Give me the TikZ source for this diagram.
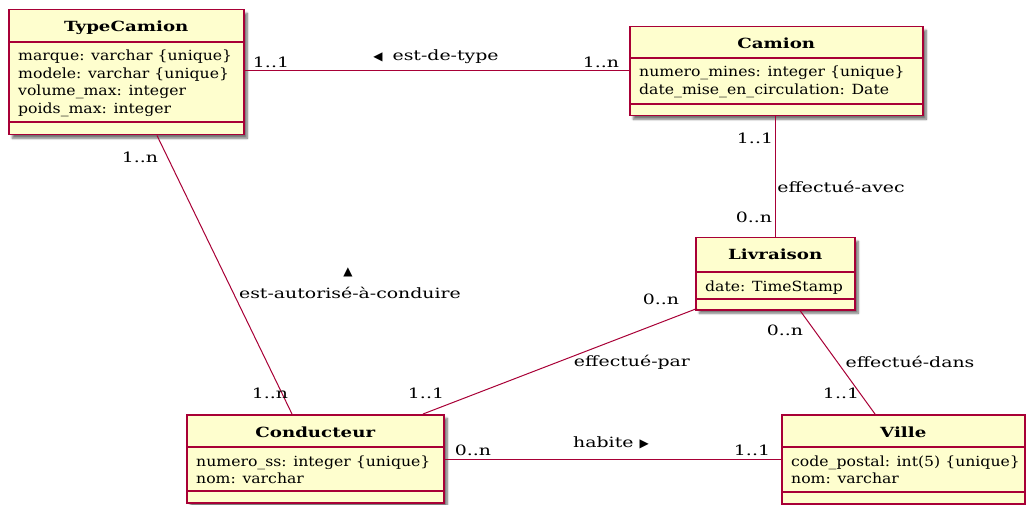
\documentclass[tikz,border=0pt]{standalone}
\usepackage{fontspec}
\setmainfont{DejaVu Serif}
\newfontfamily\attrfont[FakeStretch=1.12]{DejaVu Serif}
\newfontfamily\titlefont[FakeStretch=1.3]{DejaVu Serif}
\newfontfamily\lblfont[FakeStretch=1.33]{DejaVu Serif}
\newfontfamily\symfont{DejaVu Sans}
\usetikzlibrary{shadows.blur,calc}
\definecolor{umlborder}{HTML}{A80036}
\definecolor{umlfill}{HTML}{FEFECE}

\tikzset{
  classbox/.style={draw=umlborder, fill=umlfill, line width=1.5pt, anchor=north west,
    inner sep=0pt, blur shadow={shadow xshift=3.5pt, shadow yshift=-3.5pt,
    shadow blur steps=6, shadow opacity=55}},
  sepline/.style={draw=umlborder, line width=1.5pt},
  classtitle/.style={font=\titlefont\fontsize{14}{17}\selectfont\bfseries, inner sep=0pt, anchor=base},
  attr/.style={font=\attrfont\fontsize{14}{17}\selectfont, inner sep=0pt, anchor=base west},
  assoc/.style={draw=umlborder, line width=1pt},
  lbl/.style={font=\lblfont\fontsize{14.2}{17}\selectfont, inner sep=0pt},
}
\newcommand\tri[1]{{\symfont\fontsize{12}{12}\selectfont #1}}

% #1 name, #2 x, #3 y (top), #4 width, #5 height,
% #6 header height, #7 offset of the lower separator, #8 title, #9 attributes
\newcommand\umlclass[9]{%
  \node[classbox, minimum width=#4pt, minimum height=#5pt] (#1) at (#2,#3) {};
  \draw[sepline] ([yshift=-#6pt]#1.north west) -- ([yshift=-#6pt]#1.north east);
  \draw[sepline] ([yshift=-#7pt]#1.north west) -- ([yshift=-#7pt]#1.north east);
  \node[classtitle] (#1-title) at ([yshift=-23pt]#1.north) {#8};
  \foreach \t [count=\i] in {#9}
    \node[attr] (#1-a\i) at ([xshift=10pt, yshift={-#6pt-19pt-(\i-1)*17.4pt}]#1.north west) {\t};
}

\begin{document}
\begin{tikzpicture}[x=1pt, y=-1pt]
\useasboundingbox (0,0) rectangle (1026,505);

% classes
\umlclass{tc}{8}{9}{235}{125}{33}{113}{TypeCamion}
  {{marque: varchar \{unique\}}, {modele: varchar \{unique\}}, {volume\_max: integer}, {poids\_max: integer}}
\umlclass{cam}{629}{26}{293}{89}{32}{78}{Camion}
  {{numero\_mines: integer \{unique\}}, {date\_mise\_en\_circulation: Date}}
\umlclass{liv}{695}{237}{159}{72}{35}{62}{Livraison}
  {{date: TimeStamp}}
\umlclass{cond}{186}{414}{257}{88}{33}{77}{Conducteur}
  {{numero\_ss: integer \{unique\}}, {nom: varchar}}
\umlclass{ville}{781}{414}{243}{89}{33}{78}{Ville}
  {{code\_postal: int(5) \{unique\}}, {nom: varchar}}

% associations
\draw[assoc] (tc.east |- 0,71) -- (cam.west |- 0,71);
\draw[assoc] (cam.south -| 775,0) -- (liv.north -| 775,0);
\draw[assoc] ([xshift=149pt]tc.south west) -- ([xshift=106pt]cond.north west);
\draw[assoc] ([xshift=2pt, yshift=2pt]liv.south west) -- ([xshift=237pt]cond.north west);
\draw[assoc] ([xshift=105pt]liv.south west) -- ([xshift=94pt]ville.north west);
\draw[assoc] (cond.east |- 0,459) -- (ville.west |- 0,459);

% association names and multiplicities
\node[lbl] (l1) at (271,62) {1..1};
\node[lbl] (l2) at (601,62) {1..n};
\node[lbl] (l3) at (436,57) {\tri{◀}\hspace{4pt} est-de-type};

\node[lbl] (l4) at (755,138) {1..1};
\node[lbl] (l5) at (841,187) {effectué-avec};
\node[lbl] (l6) at (754,217) {0..n};

\node[lbl] (l7) at (140,157) {1..n};
\node[lbl] (l8) at (348,272) {\tri{▲}};
\node[lbl] (l9) at (350,293) {est-autorisé-à-conduire};
\node[lbl] (l10) at (270,393) {1..n};

\node[lbl] (l11) at (661,299) {0..n};
\node[lbl] (l12) at (632,362) {effectué-par};
\node[lbl] (l13) at (426,393) {1..1};

\node[lbl] (l14) at (785,330) {0..n};
\node[lbl] (l15) at (910,362) {effectué-dans};
\node[lbl] (l16) at (841,393) {1..1};

\node[lbl] (l17) at (473,450) {0..n};
\node[lbl] (l18) at (611,443) {habite \tri{▶}};
\node[lbl] (l19) at (752,450) {1..1};
\end{tikzpicture}
\end{document}
